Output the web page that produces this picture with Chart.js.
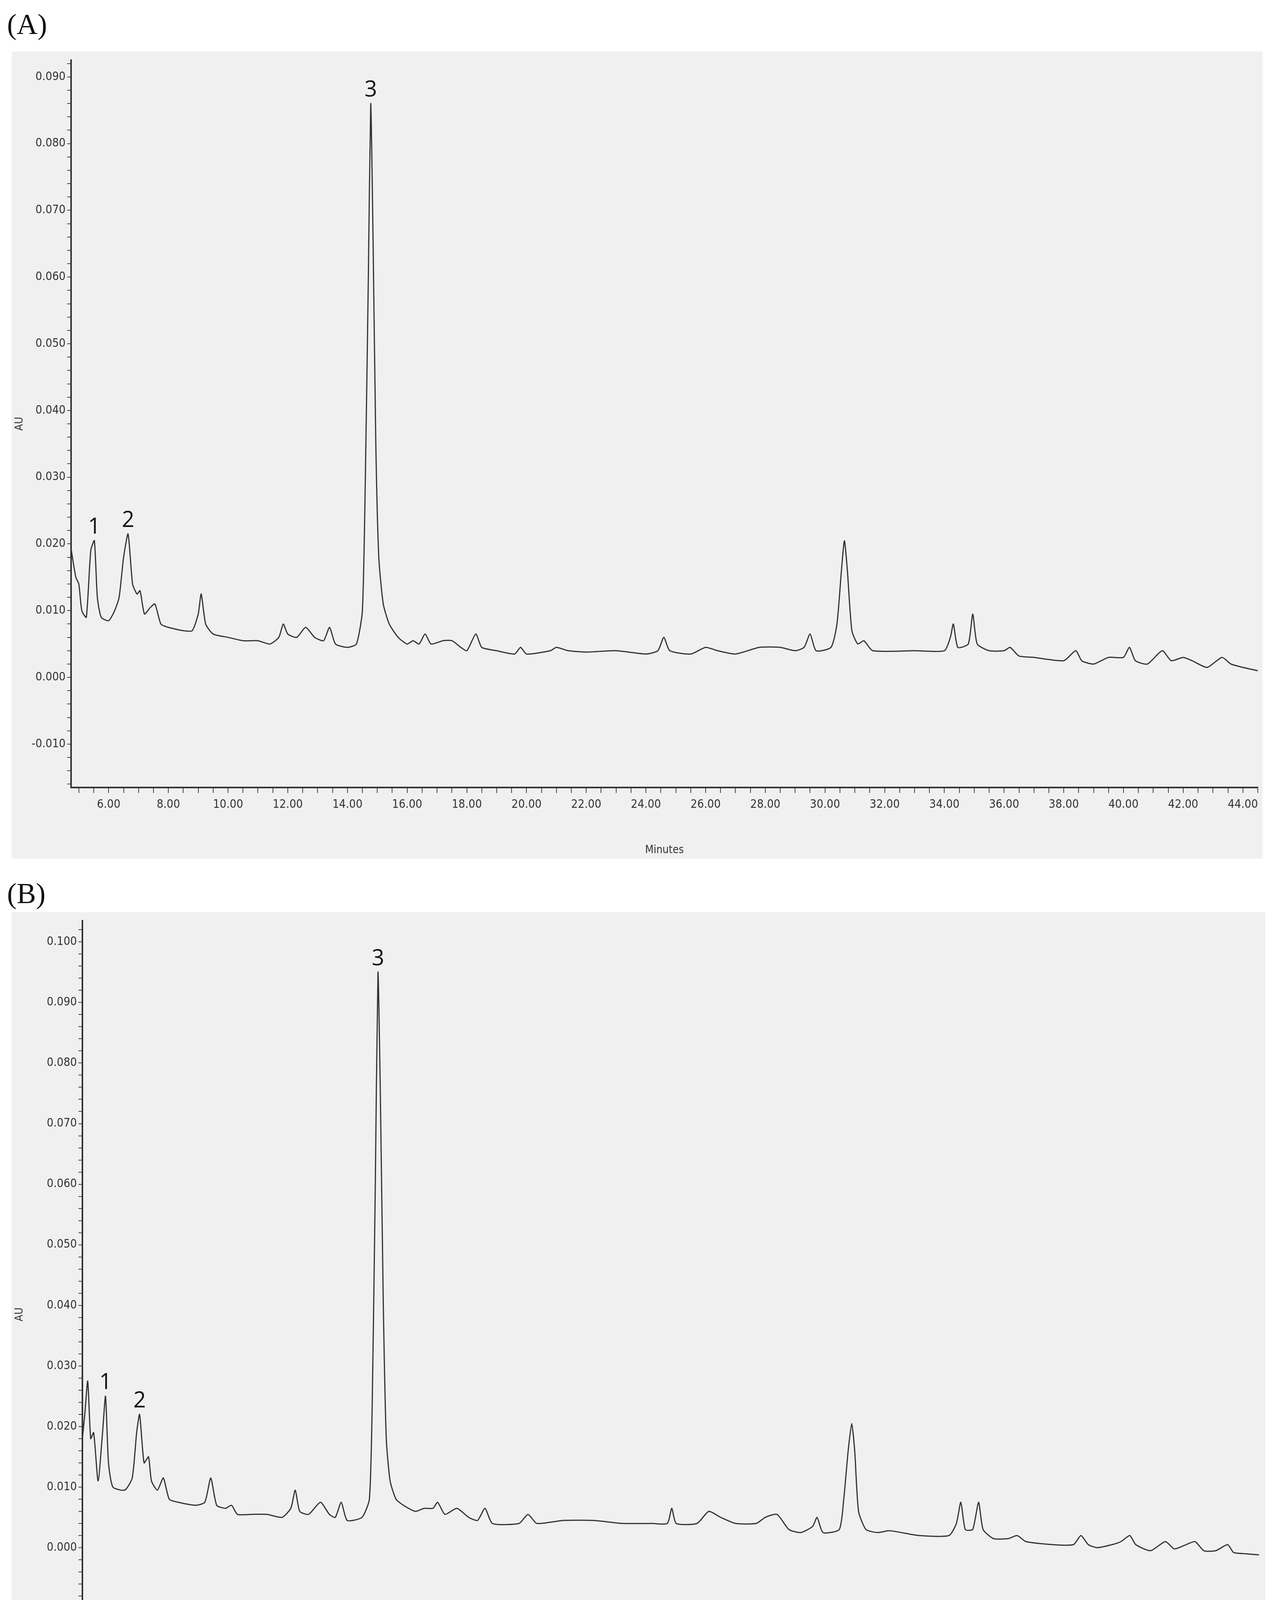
<!DOCTYPE html>
<html style="height:4608px">
<head>
<meta charset="utf-8">
<script src="https://cdn.jsdelivr.net/npm/chart.js@4.4.1/dist/chart.umd.min.js"></script>
<style>
  html, body { margin: 0; background: #fff; }
  body { width: 3283px; height: 4608px; position: relative; overflow: hidden; }
  .lbl { position: absolute; font-family: "Liberation Serif", serif; font-size: 74px; color: #111; }
  .panel { position: absolute; background: #f0f0f0; }
</style>
</head>
<body>
<div class="lbl" style="left:18px;top:20px">(A)</div>
<div class="panel" style="left:30px;top:132px;width:3203px;height:2066px"><canvas id="chartA"></canvas></div>
<div class="lbl" style="left:18px;top:2245px">(B)</div>
<div class="panel" style="left:30px;top:2335px;width:3210px;height:2228px"><canvas id="chartB"></canvas></div>
<script>
// chromatogram A: [minutes, AU]
const traceA = [
  [4.75,0.019],[4.9,0.015],[5.0,0.014],[5.1,0.010],[5.25,0.009],[5.4,0.019],[5.52,0.0205],[5.62,0.012],[5.75,0.009],
  [6.0,0.0085],[6.2,0.010],[6.35,0.012],[6.5,0.018],[6.65,0.0215],[6.8,0.014],[6.95,0.0125],[7.05,0.013],[7.2,0.0095],
  [7.4,0.0105],[7.55,0.011],[7.75,0.008],[8.0,0.0075],[8.5,0.007],[8.8,0.007],[9.0,0.0095],[9.1,0.0125],[9.25,0.008],
  [9.5,0.0065],[10.0,0.006],[10.5,0.0055],[11.0,0.0055],[11.4,0.005],[11.7,0.006],[11.85,0.008],[12.0,0.0065],[12.3,0.006],
  [12.6,0.0075],[12.9,0.006],[13.2,0.0055],[13.4,0.0075],[13.6,0.005],[14.0,0.0045],[14.3,0.005],[14.5,0.010],[14.6,0.030],
  [14.7,0.060],[14.78,0.086],[14.86,0.065],[14.95,0.035],[15.05,0.018],[15.2,0.011],[15.4,0.008],[15.7,0.006],[16.0,0.005],
  [16.2,0.0055],[16.4,0.005],[16.6,0.0065],[16.8,0.005],[17.2,0.0055],[17.5,0.0055],[17.8,0.0045],[18.0,0.004],[18.3,0.0065],
  [18.5,0.0045],[19.0,0.004],[19.6,0.0035],[19.8,0.0045],[20.0,0.0035],[20.8,0.004],[21.0,0.0045],[21.4,0.004],[22.0,0.0038],
  [23.0,0.004],[24.0,0.0035],[24.4,0.004],[24.6,0.006],[24.8,0.004],[25.5,0.0035],[26.0,0.0045],[26.4,0.004],[27.0,0.0035],
  [27.8,0.0045],[28.5,0.0045],[29.0,0.004],[29.3,0.0045],[29.5,0.0065],[29.7,0.004],[30.2,0.0045],[30.4,0.008],[30.55,0.016],
  [30.65,0.0205],[30.75,0.016],[30.9,0.007],[31.1,0.005],[31.3,0.0055],[31.6,0.004],[33.0,0.004],[34.0,0.004],[34.2,0.006],
  [34.3,0.008],[34.45,0.0045],[34.8,0.005],[34.95,0.0095],[35.1,0.005],[35.5,0.004],[36.0,0.004],[36.2,0.0045],[36.5,0.0032],
  [37.0,0.003],[38.0,0.0025],[38.4,0.004],[38.6,0.0025],[39.0,0.002],[39.5,0.003],[40.0,0.003],[40.2,0.0045],[40.4,0.0025],
  [40.8,0.002],[41.3,0.004],[41.6,0.0025],[42.0,0.003],[42.3,0.0025],[42.8,0.0015],[43.3,0.003],[43.6,0.002],[44.0,0.0015],[44.5,0.001]
];
// chromatogram B
const traceB = [
  [4.75,0.017],[4.85,0.022],[4.95,0.0275],[5.05,0.018],[5.15,0.019],[5.3,0.011],[5.45,0.019],[5.55,0.025],[5.65,0.014],
  [5.8,0.010],[6.2,0.0095],[6.45,0.0115],[6.6,0.019],[6.7,0.022],[6.85,0.014],[7.0,0.015],[7.1,0.011],[7.3,0.0095],
  [7.5,0.0115],[7.7,0.008],[8.0,0.0075],[8.6,0.007],[8.9,0.0075],[9.1,0.0115],[9.3,0.007],[9.6,0.0065],[9.8,0.007],
  [10.0,0.0055],[10.5,0.0055],[11.0,0.0055],[11.5,0.005],[11.8,0.0065],[11.95,0.0095],[12.1,0.006],[12.4,0.0055],
  [12.8,0.0075],[13.1,0.0055],[13.3,0.005],[13.5,0.0075],[13.7,0.0045],[14.2,0.005],[14.45,0.008],[14.55,0.025],
  [14.65,0.060],[14.74,0.095],[14.82,0.075],[14.92,0.040],[15.02,0.018],[15.15,0.011],[15.35,0.008],[15.6,0.007],
  [16.0,0.006],[16.3,0.0065],[16.6,0.0065],[16.75,0.0075],[17.0,0.0055],[17.4,0.0065],[17.8,0.005],[18.1,0.0045],
  [18.35,0.0065],[18.6,0.004],[19.5,0.004],[19.8,0.0055],[20.1,0.004],[21.0,0.0045],[22.0,0.0045],[23.0,0.004],
  [24.0,0.004],[24.5,0.004],[24.65,0.0065],[24.8,0.004],[25.5,0.004],[25.9,0.006],[26.3,0.005],[26.8,0.004],[27.5,0.004],
  [27.8,0.005],[28.2,0.0055],[28.6,0.003],[29.0,0.0025],[29.4,0.0035],[29.55,0.005],[29.75,0.0025],[30.3,0.003],
  [30.45,0.008],[30.6,0.016],[30.72,0.0205],[30.82,0.016],[30.95,0.006],[31.2,0.003],[31.6,0.0025],[32.0,0.0028],
  [33.0,0.002],[34.0,0.002],[34.25,0.004],[34.4,0.0075],[34.55,0.003],[34.8,0.003],[35.0,0.0075],[35.15,0.003],
  [35.5,0.0015],[36.0,0.0015],[36.3,0.002],[36.6,0.001],[37.5,0.0005],[38.2,0.0005],[38.45,0.002],[38.7,0.0005],
  [39.0,0.0],[39.5,0.0005],[39.8,0.001],[40.1,0.002],[40.3,0.0005],[40.8,-0.0005],[41.3,0.001],[41.6,-0.0002],
  [42.0,0.0005],[42.3,0.001],[42.6,-0.0005],[43.0,-0.0005],[43.4,0.0005],[43.6,-0.0008],[44.0,-0.001],[44.5,-0.0012]
];
const peakLabels = ['1', '2', '3'];
const peaksA = [[5.52, 0.0205], [6.65, 0.0215], [14.78, 0.086]];
const peaksB = [[5.55, 0.025], [6.7, 0.022], [14.74, 0.095]];
const yTicksA = [-0.010, 0.000, 0.010, 0.020, 0.030, 0.040, 0.050, 0.060, 0.070, 0.080, 0.090];
const yTicksB = [-0.020, -0.010, 0.000, 0.010, 0.020, 0.030, 0.040, 0.050, 0.060, 0.070, 0.080, 0.090, 0.100];
const xTickLabels = [6, 8, 10, 12, 14, 16, 18, 20, 22, 24, 26, 28, 30, 32, 34, 36, 38, 40, 42, 44];

const tickFont = { family: "'DejaVu Sans Condensed', 'Liberation Sans Narrow', sans-serif", size: 30 };

const peakPlugin = {
  id: 'peaks',
  afterDatasetsDraw(chart) {
    const pk = chart.options.plugins.peaks.list;
    const ctx = chart.ctx;
    ctx.save();
    ctx.fillStyle = '#111';
    ctx.font = "56px 'Open Sans', sans-serif";
    ctx.textAlign = 'center';
    ctx.textBaseline = 'bottom';
    pk.forEach((p, i) => {
      ctx.fillText(peakLabels[i], chart.scales.x.getPixelForValue(p[0]), chart.scales.y.getPixelForValue(p[1]) - 6);
    });
    ctx.restore();
  }
};

function makeChart(id, trace, peaks, yTicks, ymin, ymax, xmin, xmax, yW, xH) {
  const minorY = [];
  for (let v = Math.ceil(ymin / 0.002); v * 0.002 <= ymax; v++) minorY.push(+(v * 0.002).toFixed(3));
  const minorX = [];
  for (let v = Math.ceil(xmin * 2); v / 2 <= xmax; v++) minorX.push(v / 2);
  return new Chart(document.getElementById(id), {
    type: 'line',
    data: {
      datasets: [{
        data: trace.map(p => ({ x: p[0], y: p[1] })),
        borderColor: '#333',
        borderWidth: 3,
        pointRadius: 0,
        tension: 0.2
      }]
    },
    options: {
      responsive: true,
      maintainAspectRatio: false,
      animation: false,
      plugins: { legend: { display: false }, tooltip: { enabled: false }, peaks: { list: peaks } },
      scales: {
        x: {
          type: 'linear', min: xmin, max: xmax,
          afterBuildTicks: a => { a.ticks = minorX.map(v => ({ value: v })); },
          afterFit: a => { a.height = xH; },
          ticks: {
            autoSkip: false, maxRotation: 0, color: '#333', font: tickFont, padding: 12,
            callback: v => xTickLabels.includes(v) ? v.toFixed(2) : ''
          },
          grid: { drawOnChartArea: false, drawTicks: true, tickLength: 14, color: '#444', lineWidth: 2 },
          border: { color: '#333', width: 4 },
          title: { display: true, text: 'Minutes', color: '#333', font: { family: tickFont.family, size: 28 }, padding: { top: 0 } }
        },
        y: {
          min: ymin, max: ymax,
          afterBuildTicks: a => { a.ticks = minorY.map(v => ({ value: v })); },
          afterFit: a => { a.width = yW; },
          ticks: {
            autoSkip: false, color: '#333', font: tickFont, padding: 4,
            callback: v => yTicks.some(t => Math.abs(t - v) < 1e-6) ? v.toFixed(3) : ''
          },
          grid: { drawOnChartArea: false, drawTicks: true, tickLength: 10, color: '#444', lineWidth: 2 },
          border: { color: '#333', width: 4 },
          title: { display: true, text: 'AU', color: '#333', font: { family: tickFont.family, size: 28 } }
        }
      }
    },
    plugins: [peakPlugin]
  });
}

makeChart('chartA', traceA, peaksA, yTicksA, -0.0165, 0.0925, 4.74, 44.5, 152, 182);
makeChart('chartB', traceB, peaksB, yTicksB, -0.0265, 0.1035, 4.77, 44.46, 181, 190);
</script>
</body>
</html>
